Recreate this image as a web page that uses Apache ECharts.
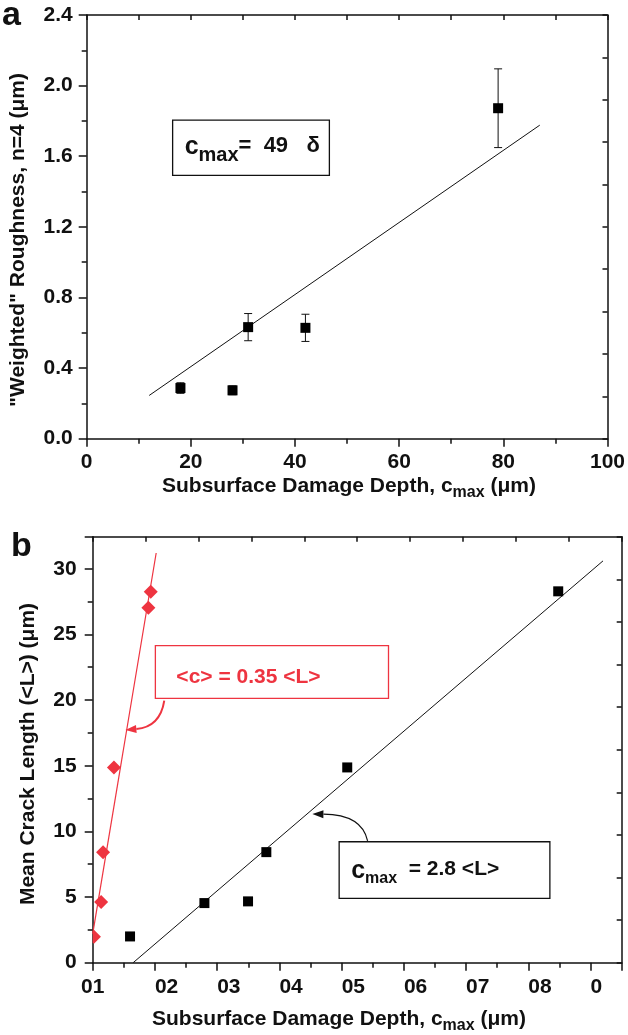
<!DOCTYPE html>
<html>
<head>
<meta charset="utf-8">
<script src="https://cdn.jsdelivr.net/npm/echarts@6/dist/echarts.min.js"></script>
<style>
html,body{margin:0;padding:0;background:#fff;}
#c{width:628px;height:1035px;}
</style>
</head>
<body>
<div id="c"></div>
<script>
// ---------- Panel a data ----------
const aDepth = [18, 28, 31, 42, 79];
const aRough = [0.287, 0.274, 0.632, 0.628, 1.872];
const aErr   = [0.030, 0.025, 0.077, 0.077, 0.223];
const aFitX  = [12, 87];
const aFitY  = [0.245, 1.776];
const aXLabels = ['0', '20', '40', '60', '80', '100'];
const aYLabels = ['0.0', '0.4', '0.8', '1.2', '1.6', '2.0', '2.4'];

// ---------- Panel b data ----------
const bSquareX  = [6.0, 17.95, 24.96, 27.9, 40.9, 74.8];
const bSquareY  = [2.0, 4.54, 4.67, 8.42, 14.87, 28.28];
const bDiamondX = [0.2, 1.35, 1.67, 3.41, 8.95, 9.33];
const bDiamondY = [1.98, 4.62, 8.42, 14.87, 27.03, 28.25];
const bBlackFitX = [6.5, 82];
const bBlackFitY = [0, 30.6];
const bRedFitX = [0, 10.2];
const bRedFitY = [2.2, 31.2];
const bXLabels = ['01', '02', '03', '04', '05', '06', '07', '08', '0'];
const bYLabels = ['0', '5', '10', '15', '20', '25', '30'];

// ---------- annotation placement (data units) ----------
const annA = [[16.5, 1.804, 46.6, 1.492]];
const annBRed = [[10.07, 24.14, 47.53, 20.13]];
const annBBlack = [[39.6, 9.21, 73.46, 4.90]];
const arrowRed = [[11.5, 19.95, 10.83, 17.94, 5.25, 17.72]];
const arrowBlack = [[44.17, 9.27, 43.27, 11.28, 35.3, 11.32]];

const RED = '#ee3440';
const INK = '#111';
const FONT = '"Liberation Sans", Arial, Helvetica, sans-serif';

const zip = (xs, ys) => xs.map((x, i) => [x, ys[i]]);

const chart = echarts.init(document.getElementById('c'));

const axisLine = {show: true, onZero: false, lineStyle: {color: INK, width: 1.5}};

function mainAxis(gridIndex, min, max, interval, margin, labels, extra) {
  return Object.assign({
    type: 'value', gridIndex, min, max, interval,
    axisLine,
    axisTick: {show: true, inside: false, length: 8, lineStyle: {color: INK, width: 1.5}},
    minorTick: {show: true, splitNumber: 2, length: 5, lineStyle: {color: INK, width: 1.5}},
    splitLine: {show: false},
    minorSplitLine: {show: false},
    axisLabel: {
      margin, color: INK, fontSize: 21, fontWeight: 'bold', fontFamily: FONT,
      formatter: function (v) {
        const k = Math.round((v - min) / interval);
        if (Math.abs((v - min) / interval - k) > 1e-6) return '';
        return labels[k] !== undefined ? labels[k] : '';
      }
    }
  }, extra || {});
}
function frameAxis(gridIndex, position, min, max) {
  return {
    type: 'value', gridIndex, position, min, max, interval: (max - min) / 10,
    axisLine,
    axisTick: {show: true, inside: true, length: 5, lineStyle: {color: INK, width: 1.5}},
    axisLabel: {show: false},
    splitLine: {show: false}
  };
}

function boxRenderer(color, textRich, textFn, dx, dy) {
  return function (params, api) {
    const p1 = api.coord([api.value(0), api.value(1)]);
    const p2 = api.coord([api.value(2), api.value(3)]);
    const x = Math.min(p1[0], p2[0]), y = Math.min(p1[1], p2[1]);
    const w = Math.abs(p2[0] - p1[0]), h = Math.abs(p2[1] - p1[1]);
    return {
      type: 'group',
      children: [
        {type: 'rect', shape: {x, y, width: w, height: h},
         style: {fill: '#fff', stroke: color, lineWidth: 1.3}},
        {type: 'text', style: {
          text: textFn, rich: textRich, x: x + dx, y: y + h / 2 + dy,
          align: 'left', verticalAlign: 'middle', fill: color
        }}
      ]
    };
  };
}

function arrowRenderer(color, width) {
  return function (params, api) {
    const s = api.coord([api.value(0), api.value(1)]);
    const c = api.coord([api.value(2), api.value(3)]);
    const e = api.coord([api.value(4), api.value(5)]);
    let dx = e[0] - c[0], dy = e[1] - c[1];
    const L = Math.sqrt(dx * dx + dy * dy) || 1;
    dx /= L; dy /= L;
    const len = 11, hw = 4;
    const bx = e[0] - dx * len, by = e[1] - dy * len;
    return {
      type: 'group',
      children: [
        {type: 'bezierCurve', shape: {x1: s[0], y1: s[1], cpx1: c[0], cpy1: c[1], x2: bx, y2: by},
         style: {stroke: color, lineWidth: width, fill: null}},
        {type: 'polygon', shape: {points: [[e[0], e[1]], [bx - dy * hw, by + dx * hw], [bx + dy * hw, by - dx * hw]]},
         style: {fill: color}}
      ]
    };
  };
}

// diamond marker clipped to the plotting area's left edge
function diamondRenderer(color, size) {
  return function (params, api) {
    const p = api.coord([api.value(0), api.value(1)]);
    const r = size / 2;
    const left = params.coordSys.x;
    const pts = [[p[0], p[1] - r], [p[0] + r, p[1]], [p[0], p[1] + r], [p[0] - r, p[1]]];
    const out = [];
    for (let i = 0; i < pts.length; i++) {
      const a = pts[i], b = pts[(i + 1) % pts.length];
      const ain = a[0] >= left, bin = b[0] >= left;
      if (ain) out.push(a);
      if (ain !== bin) {
        const t = (left - a[0]) / (b[0] - a[0]);
        out.push([left, a[1] + t * (b[1] - a[1])]);
      }
    }
    return {type: 'polygon', shape: {points: out}, style: {fill: color}};
  };
}

const mainTok = {fontSize: 22, fontWeight: 'bold', fontFamily: FONT, verticalAlign: 'top', lineHeight: 24};
const cTok = {fontSize: 25, fontWeight: 'bold', fontFamily: FONT, verticalAlign: 'top', lineHeight: 24};
const subTokA = {fontSize: 20, fontWeight: 'bold', fontFamily: FONT, verticalAlign: 'top', lineHeight: 18, padding: [11, 0, 0, 0]};
const mainTokB = {fontSize: 21, fontWeight: 'bold', fontFamily: FONT, verticalAlign: 'top', lineHeight: 24};
const subTokB = {fontSize: 16, fontWeight: 'bold', fontFamily: FONT, verticalAlign: 'top', lineHeight: 16, padding: [12, 0, 0, 0]};

const titleRich = {
  m: {fontSize: 21, fontWeight: 'bold', fontFamily: FONT, verticalAlign: 'top', lineHeight: 22},
  s: {fontSize: 16, fontWeight: 'bold', fontFamily: FONT, verticalAlign: 'top', lineHeight: 16, padding: [9, 0, 0, 0]}
};

const option = {
  animation: false,
  backgroundColor: '#fff',
  grid: [
    {left: 86.7, top: 15, width: 526, height: 423.7, containLabel: false},
    {left: 92.7, top: 536.7, width: 529, height: 426, containLabel: false}
  ],
  xAxis: [
    mainAxis(0, 0, 100, 20, 13, aXLabels),
    frameAxis(0, 'top', 0, 100),
    mainAxis(1, 0, 85, 10, 14, bXLabels, {}),
    frameAxis(1, 'top', 0, 85)
  ],
  yAxis: [
    mainAxis(0, 0, 2.4, 0.4, 14, aYLabels),
    frameAxis(0, 'right', 0, 2.4),
    mainAxis(1, 0, 32.44, 5, 16, bYLabels),
    frameAxis(1, 'right', 0, 32.44)
  ],
  graphic: [
    {type: 'text', left: 2, top: -1, style: {text: 'a', font: 'bold 34px ' + FONT, fill: INK}},
    {type: 'text', left: 11, top: 530, style: {text: 'b', font: 'bold 34px ' + FONT, fill: INK}},
    {type: 'text', x: 349, y: 487, style: {
      text: '{m|Subsurface Damage Depth, c}{s|max}{m| (μm)}', align: 'center', verticalAlign: 'middle', fill: INK,
      rich: titleRich
    }},
    {type: 'text', x: 339, y: 1020, style: {
      text: '{m|Subsurface Damage Depth, c}{s|max}{m| (μm)}', align: 'center', verticalAlign: 'middle', fill: INK,
      rich: titleRich
    }},
    {type: 'text', x: 18, y: 240, rotation: Math.PI / 2, style: {
      text: '"Weighted" Roughness, n=4 (μm)', font: 'bold 21px ' + FONT, fill: INK, align: 'center', verticalAlign: 'middle'
    }},
    {type: 'text', x: 28, y: 754, rotation: Math.PI / 2, style: {
      text: 'Mean Crack Length (<L>) (μm)', font: 'bold 21px ' + FONT, fill: INK, align: 'center', verticalAlign: 'middle'
    }}
  ],
  series: [
    // ----- Panel a -----
    {type: 'line', xAxisIndex: 0, yAxisIndex: 0, data: zip(aFitX, aFitY), showSymbol: false, symbol: 'none',
     lineStyle: {color: INK, width: 1}, z: 2},
    {type: 'custom', xAxisIndex: 0, yAxisIndex: 0, data: aDepth.map((x, i) => [x, aRough[i], aErr[i]]),
     encode: {x: 0, y: 1}, z: 3,
     renderItem: function (params, api) {
       const x = api.value(0), y = api.value(1), e = api.value(2);
       const t = api.coord([x, y + e]), b = api.coord([x, y - e]);
       const hw = 4;
       const st = {stroke: INK, lineWidth: 1};
       return {type: 'group', children: [
         {type: 'line', shape: {x1: t[0], y1: t[1], x2: b[0], y2: b[1]}, style: st},
         {type: 'line', shape: {x1: t[0] - hw, y1: t[1], x2: t[0] + hw, y2: t[1]}, style: st},
         {type: 'line', shape: {x1: b[0] - hw, y1: b[1], x2: b[0] + hw, y2: b[1]}, style: st}
       ]};
     }},
    {type: 'scatter', xAxisIndex: 0, yAxisIndex: 0, data: zip(aDepth, aRough), symbol: 'rect', symbolSize: 10,
     itemStyle: {color: '#000', opacity: 1}, z: 4},
    {type: 'custom', xAxisIndex: 0, yAxisIndex: 0, data: annA, encode: {x: [0, 2], y: [1, 3]}, z: 5,
     renderItem: boxRenderer(INK, {t: mainTok, c: cTok, s: subTokA}, '{c|c}{s|max}{t|=  49   δ}', 12, -1)},

    // ----- Panel b -----
    {type: 'line', xAxisIndex: 2, yAxisIndex: 2, data: zip(bBlackFitX, bBlackFitY), showSymbol: false, symbol: 'none',
     lineStyle: {color: INK, width: 1}, z: 2},
    {type: 'line', xAxisIndex: 2, yAxisIndex: 2, data: zip(bRedFitX, bRedFitY), showSymbol: false, symbol: 'none',
     lineStyle: {color: RED, width: 1.2}, z: 2},
    {type: 'scatter', xAxisIndex: 2, yAxisIndex: 2, data: zip(bSquareX, bSquareY), symbol: 'rect', symbolSize: 10,
     itemStyle: {color: '#000', opacity: 1}, z: 4},
    {type: 'custom', xAxisIndex: 2, yAxisIndex: 2, data: zip(bDiamondX, bDiamondY), encode: {x: 0, y: 1}, z: 4,
     renderItem: diamondRenderer(RED, 14)},
    {type: 'custom', xAxisIndex: 2, yAxisIndex: 2, data: annBRed, encode: {x: [0, 2], y: [1, 3]}, z: 5,
     renderItem: boxRenderer(RED, {t: {fontSize: 21, fontWeight: 'bold', fontFamily: FONT, fill: RED}}, '{t|<c> = 0.35 <L>}', 21, 5)},
    {type: 'custom', xAxisIndex: 2, yAxisIndex: 2, data: annBBlack, encode: {x: [0, 2], y: [1, 3]}, z: 5,
     renderItem: boxRenderer(INK, {t: mainTokB, c: cTok, s: subTokB}, '{c|c}{s|max}{t|  = 2.8 <L>}', 12, 1)},
    {type: 'custom', xAxisIndex: 2, yAxisIndex: 2, data: arrowRed, encode: {x: [0, 2, 4], y: [1, 3, 5]}, z: 6,
     renderItem: arrowRenderer(RED, 2)},
    {type: 'custom', xAxisIndex: 2, yAxisIndex: 2, data: arrowBlack, encode: {x: [0, 2, 4], y: [1, 3, 5]}, z: 6,
     renderItem: arrowRenderer(INK, 1.2)}
  ]
};
option.xAxis[2].axisLabel.align = 'left';
option.xAxis[2].axisLabel.alignMinLabel = 'center';
option.xAxis[2].axisLabel.showMaxLabel = false;
option.yAxis[2].axisLabel.showMaxLabel = false;
chart.setOption(option);
</script>
</body>
</html>
